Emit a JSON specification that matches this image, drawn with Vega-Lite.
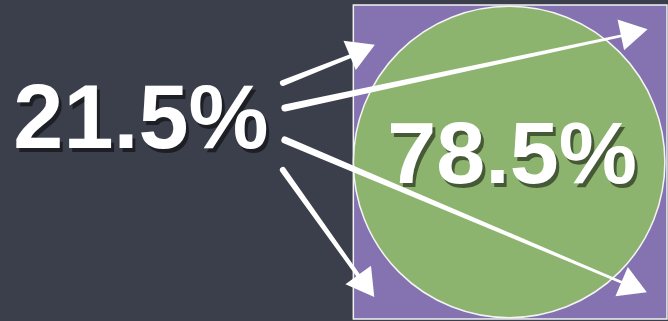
{
  "$schema": "https://vega.github.io/schema/vega-lite/v6.json",
  "width": 668,
  "height": 321,
  "autosize": {"type": "fit", "contains": "padding"},
  "padding": 0,
  "background": "#3b3f4b",
  "config": {"view": {"stroke": null}},
  "datasets": {
    "square": [{"x": 356, "x2": 672, "y": 5, "y2": 319}],
    "circle": [{"x": 513, "y": 162}],
    "strokes": [
      {"arrow": "a1", "order": 0, "x": 285, "y": 83, "w": 6},
      {"arrow": "a1", "order": 1, "x": 356, "y": 55, "w": 4},
      {"arrow": "a2", "order": 0, "x": 287, "y": 108, "w": 7},
      {"arrow": "a2", "order": 1, "x": 630, "y": 35, "w": 2.5},
      {"arrow": "a3", "order": 0, "x": 287, "y": 140, "w": 7},
      {"arrow": "a3", "order": 1, "x": 628, "y": 283, "w": 2.5},
      {"arrow": "a4", "order": 0, "x": 285, "y": 170, "w": 6},
      {"arrow": "a4", "order": 1, "x": 362, "y": 277, "w": 4}
    ],
    "heads": [
      {"arrow": "a1", "x": 365, "y": 50, "angle": 67},
      {"arrow": "a2", "x": 639, "y": 32, "angle": 78},
      {"arrow": "a3", "x": 639, "y": 287, "angle": 113},
      {"arrow": "a4", "x": 369, "y": 286, "angle": 144}
    ],
    "labels": [
      {"label": "21.5%", "x": 142, "y": 148, "size": 90},
      {"label": "78.5%", "x": 516, "y": 183, "size": 88}
    ]
  },
  "layer": [
    {
      "data": {"name": "square"},
      "mark": {"type": "rect", "fill": "#8572b0", "stroke": "#f2f2f2", "strokeWidth": 1.5},
      "encoding": {
        "x": {"field": "x", "type": "quantitative", "scale": {"domain": [0, 668], "nice": false, "zero": false}, "axis": null},
        "x2": {"field": "x2"},
        "y": {"field": "y", "type": "quantitative", "scale": {"domain": [0, 321], "nice": false, "zero": false, "reverse": true}, "axis": null},
        "y2": {"field": "y2"}
      }
    },
    {
      "data": {"name": "circle"},
      "mark": {"type": "point", "shape": "circle", "filled": true, "fill": "#8db46f", "fillOpacity": 1, "stroke": "#f4f4f4", "strokeWidth": 1.5, "opacity": 1, "size": 97000},
      "encoding": {
        "x": {"field": "x", "type": "quantitative", "axis": null},
        "y": {"field": "y", "type": "quantitative", "axis": null}
      }
    },
    {
      "data": {"name": "strokes"},
      "mark": {"type": "trail", "color": "#ffffff"},
      "encoding": {
        "x": {"field": "x", "type": "quantitative", "axis": null},
        "y": {"field": "y", "type": "quantitative", "axis": null},
        "detail": {"field": "arrow"},
        "order": {"field": "order"},
        "size": {"field": "w", "type": "quantitative", "scale": null, "legend": null}
      }
    },
    {
      "data": {"name": "heads"},
      "mark": {"type": "point", "shape": "triangle-up", "filled": true, "color": "#ffffff", "opacity": 1, "size": 1000},
      "encoding": {
        "x": {"field": "x", "type": "quantitative", "axis": null},
        "y": {"field": "y", "type": "quantitative", "axis": null},
        "angle": {"field": "angle", "type": "quantitative", "scale": null}
      }
    },
    {
      "data": {"name": "labels"},
      "mark": {"type": "text", "font": "Liberation Sans", "fontWeight": "bold", "align": "center", "baseline": "alphabetic", "color": "#000000", "opacity": 0.5, "dx": 3, "dy": 4},
      "encoding": {
        "x": {"field": "x", "type": "quantitative", "axis": null},
        "y": {"field": "y", "type": "quantitative", "axis": null},
        "text": {"field": "label"},
        "size": {"field": "size", "type": "quantitative", "scale": null, "legend": null}
      }
    },
    {
      "data": {"name": "labels"},
      "mark": {"type": "text", "font": "Liberation Sans", "fontWeight": "bold", "align": "center", "baseline": "alphabetic", "color": "#ffffff"},
      "encoding": {
        "x": {"field": "x", "type": "quantitative", "axis": null},
        "y": {"field": "y", "type": "quantitative", "axis": null},
        "text": {"field": "label"},
        "size": {"field": "size", "type": "quantitative", "scale": null, "legend": null}
      }
    }
  ]
}
